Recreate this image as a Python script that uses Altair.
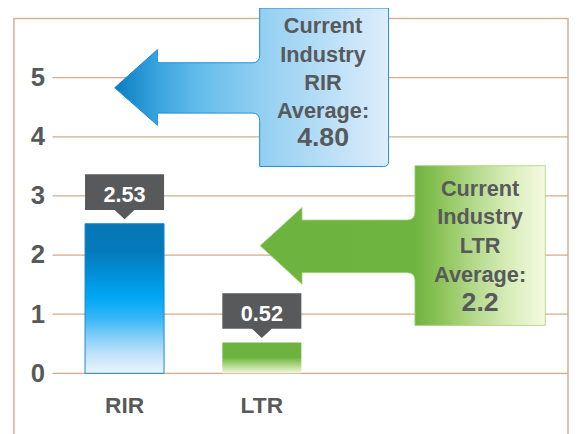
import altair as alt
import pandas as pd

# ---- data ----
categories = ["RIR", "LTR"]
values = [2.53, 0.52]
value_labels = ["2.53", "0.52"]
industry_avg = [4.80, 2.2]
avg_labels = ["4.80", "2.2"]
avg_titles = ["Current\nIndustry\nRIR\nAverage:", "Current\nIndustry\nLTR\nAverage:"]
y_ticks = [0, 1, 2, 3, 4, 5]

bars_df = pd.DataFrame({"category": categories, "value": values, "label": value_labels})
avg_df = pd.DataFrame({"category": categories, "avg": industry_avg,
                       "avg_label": avg_labels, "title": avg_titles})
ticks_df = pd.DataFrame({"tick": y_ticks})

FONT = "Liberation Sans"
GRAY = "#58595b"

xscale = alt.Scale(domain=categories, range=[72, 291], paddingInner=0.4245, paddingOuter=0)
yscale = alt.Scale(domain=[-1.1, 6], nice=False, zero=False)

X = alt.X("category:N", scale=xscale,
          axis=alt.Axis(title=None, domain=False, ticks=False, tickSize=0, grid=False,
                        labelAngle=0, labelFont=FONT, labelFontSize=23, labelFontWeight="bold",
                        labelColor=GRAY, labelPadding=-33, labelBaseline="middle"))

# gridlines
grid = alt.Chart(ticks_df).mark_rule(color="#d6aa8c", strokeWidth=1.3).encode(
    y=alt.Y("tick:Q", scale=yscale,
            axis=alt.Axis(values=y_ticks, format="d", title=None, domain=False, ticks=False,
                          tickSize=0, grid=False, labelFont=FONT, labelFontSize=26,
                          labelFontWeight="bold", labelColor=GRAY, labelPadding=-31)),
    x=alt.value(39), x2=alt.value(561),
)

rir_grad = {"gradient": "linear", "x1": 0, "y1": 0, "x2": 0, "y2": 1, "stops": [
    {"offset": 0, "color": "#0577b7"}, {"offset": 0.18, "color": "#0579b9"},
    {"offset": 0.37, "color": "#0095de"}, {"offset": 0.5, "color": "#00a8f5"},
    {"offset": 0.63, "color": "#36b6f7"}, {"offset": 0.75, "color": "#80cdf7"},
    {"offset": 0.88, "color": "#c2e3f9"}, {"offset": 1, "color": "#eaf4fd"}]}
ltr_grad = {"gradient": "linear", "x1": 0, "y1": 0, "x2": 0, "y2": 1, "stops": [
    {"offset": 0, "color": "#6cb33f"}, {"offset": 0.48, "color": "#6cb33f"},
    {"offset": 0.75, "color": "#b3d98b"}, {"offset": 1, "color": "#f0f8e2"}]}

bar_base = alt.Chart(bars_df).encode(
    x=X, y=alt.Y("value:Q", scale=yscale), y2=alt.datum(0))
bar_rir = bar_base.mark_bar(fill=rir_grad, stroke="#1a88cc", strokeWidth=1).transform_filter(
    alt.datum.category == "RIR")
bar_ltr = bar_base.mark_bar(fill=ltr_grad).transform_filter(alt.datum.category == "LTR")

# value label callouts
label_shape = "M-40,-50 L40,-50 L40,-14 L10,-14 L0,-4.5 L-10,-14 L-40,-14 Z"
label_box = alt.Chart(bars_df).mark_point(
    shape=label_shape, size=4, filled=True, fill=GRAY, opacity=1, strokeWidth=0
).encode(x=X, y=alt.Y("value:Q", scale=yscale))
label_text = alt.Chart(bars_df).mark_text(
    font=FONT, fontSize=22, fontWeight="bold", color="white", dy=-29, baseline="middle"
).encode(x=X, y=alt.Y("value:Q", scale=yscale), text="label:N")

# industry average arrows
blue_shape = ("M-10,-1.8 L33.3,-40.5 L33.3,-27.1 L129.5,-27.1 Q136.8,-27.1 136.8,-34.8 "
              "L136.8,-82.5 L267.3,-82.5 L267.3,72.9 Q267.3,77.9 262.3,77.9 L136.8,77.9 "
              "L136.8,31.6 Q136.8,23.9 129.5,23.9 L33.3,23.9 L33.3,36.2 Z")
blue_grad = {"gradient": "linear", "x1": 0, "y1": 0, "x2": 1, "y2": 0, "stops": [
    {"offset": 0, "color": "#0a7cc0"}, {"offset": 0.16, "color": "#3aa5df"},
    {"offset": 0.30, "color": "#62bbea"}, {"offset": 0.53, "color": "#92cff2"},
    {"offset": 1, "color": "#ddedfb"}]}
green_shape = ("M-1.7,2.5 L40.7,-36.2 L40.7,-23.5 L147,-23.5 Q155,-23.5 155,-31.5 "
               "L155,-78.5 L287,-78.5 L287,83.2 L155,83.2 L155,37.8 Q155,29.8 147,29.8 "
               "L40.7,29.8 L40.7,41.5 Z")
green_grad = {"gradient": "linear", "x1": 0, "y1": 0, "x2": 1, "y2": 0, "stops": [
    {"offset": 0, "color": "#6cb33f"}, {"offset": 0.545, "color": "#6eb440"},
    {"offset": 0.64, "color": "#8fc55b"}, {"offset": 0.75, "color": "#b4d98c"},
    {"offset": 0.87, "color": "#d8ecb8"}, {"offset": 1, "color": "#f4fadf"}]}

avg_base = alt.Chart(avg_df).encode(x=X, y=alt.Y("avg:Q", scale=yscale))
blue_arrow = avg_base.mark_point(
    shape=blue_shape, size=4, filled=True, fill=blue_grad, stroke="#1f8fd6",
    strokeWidth=1, opacity=1).transform_filter(alt.datum.category == "RIR")
green_arrow = avg_base.mark_point(
    shape=green_shape, size=4, filled=True, fill=green_grad, stroke="#a6d27c",
    strokeWidth=0.8, opacity=1).transform_filter(alt.datum.category == "LTR")

blue_title = avg_base.mark_text(
    font=FONT, fontSize=22, fontWeight="bold", color=GRAY, align="center", baseline="top",
    lineBreak="\n", lineHeight=28.7, dx=201, dy=-74
).encode(text="title:N").transform_filter(alt.datum.category == "RIR")
blue_val = avg_base.mark_text(
    font=FONT, fontSize=27, fontWeight="bold", color=GRAY, align="center", baseline="top",
    dx=201, dy=36
).encode(text="avg_label:N").transform_filter(alt.datum.category == "RIR")
green_title = avg_base.mark_text(
    font=FONT, fontSize=22, fontWeight="bold", color=GRAY, align="center", baseline="top",
    lineBreak="\n", lineHeight=29, dx=221, dy=-65.2
).encode(text="title:N").transform_filter(alt.datum.category == "LTR")
green_val = avg_base.mark_text(
    font=FONT, fontSize=27, fontWeight="bold", color=GRAY, align="center", baseline="top",
    dx=221, dy=47.5
).encode(text="avg_label:N").transform_filter(alt.datum.category == "LTR")

chart = alt.layer(
    grid, bar_rir, bar_ltr, label_box, label_text,
    blue_arrow, green_arrow, blue_title, blue_val, green_title, green_val
).properties(
    width=561, height=425,
    autosize=alt.AutoSizeParams(type="none"),
    padding={"left": 6, "top": 8, "right": 1, "bottom": 0},
).configure_view(stroke="#d8b398", strokeWidth=1.6)

chart.save("out.html", embed_options={"renderer": "svg", "actions": False})
